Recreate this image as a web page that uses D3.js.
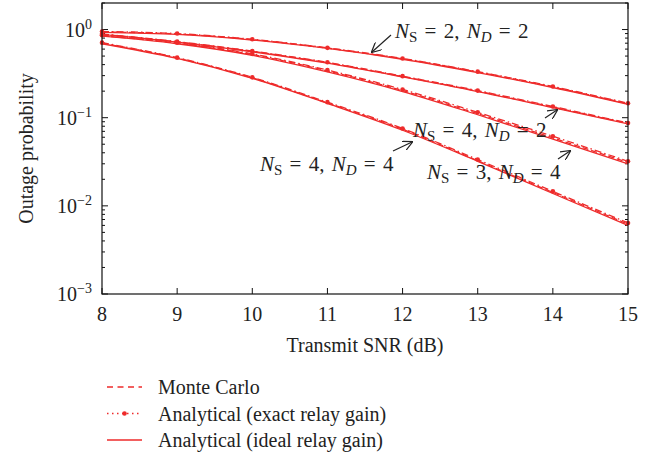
<!DOCTYPE html>
<html>
<head>
<meta charset="utf-8">
<script src="https://cdn.jsdelivr.net/npm/d3@7"></script>
<style>
  body { margin: 0; background: #fff; }
  svg { display: block; }
  text { font-family: "Liberation Serif", "DejaVu Serif", serif; fill: #222; }
</style>
</head>
<body>
<svg id="chart" width="659" height="459"></svg>
<script>
// transmit SNR (dB)
const snr = [8, 9, 10, 11, 12, 13, 14, 15];

// Monte Carlo
const mcA = [0.94, 0.89, 0.77, 0.615, 0.465, 0.33, 0.223, 0.144];
const mcB = [0.885, 0.725, 0.565, 0.42, 0.293, 0.2, 0.132, 0.086];
const mcC = [0.85, 0.70, 0.52, 0.34, 0.203, 0.111, 0.059, 0.031];
const mcD = [0.70, 0.475, 0.283, 0.147, 0.074, 0.0325, 0.0142, 0.0062];

// analytical, exact relay gain
const exA = [0.95, 0.90, 0.775, 0.62, 0.47, 0.333, 0.226, 0.146];
const exB = [0.89, 0.73, 0.57, 0.425, 0.296, 0.203, 0.134, 0.087];
const exC = [0.86, 0.71, 0.53, 0.347, 0.209, 0.115, 0.0615, 0.032];
const exD = [0.71, 0.48, 0.287, 0.15, 0.0755, 0.0335, 0.0146, 0.0064];

// analytical, ideal relay gain
const idA = [0.93, 0.88, 0.76, 0.61, 0.46, 0.325, 0.22, 0.142];
const idB = [0.88, 0.72, 0.56, 0.415, 0.29, 0.198, 0.13, 0.085];
const idC = [0.84, 0.69, 0.51, 0.33, 0.198, 0.108, 0.057, 0.030];
const idD = [0.69, 0.47, 0.28, 0.145, 0.072, 0.032, 0.0138, 0.0060];

const xTicks = [8, 9, 10, 11, 12, 13, 14, 15];
const yDecades = [0, -1, -2, -3];

const legendLabels = ["Monte Carlo", "Analytical (exact relay gain)", "Analytical (ideal relay gain)"];

const notes = [
  { s: "2", d: "2", tx: 395, ty: 38, a: [391, 35, 372, 52] },
  { s: "4", d: "2", tx: 413, ty: 137, a: [545, 118, 557, 110] },
  { s: "3", d: "4", tx: 427, ty: 179, a: [558, 159, 570, 151] },
  { s: "4", d: "4", tx: 260, ty: 171, a: [393, 151, 412, 142] }
];

const red = "#ee2b2b";
const margin = { top: 3, left: 102, right: 31, bottom: 165 };
const width = 659 - margin.left - margin.right;
const height = 459 - margin.top - margin.bottom;

const svg = d3.select("#chart");

svg.append("defs").append("marker")
  .attr("id", "head")
  .attr("viewBox", "0 0 10 10")
  .attr("refX", 9).attr("refY", 5)
  .attr("markerWidth", 10).attr("markerHeight", 10)
  .attr("markerUnits", "userSpaceOnUse")
  .attr("orient", "auto")
  .append("path")
  .attr("d", "M0,0 L10,5 L0,10")
  .attr("fill", "none")
  .attr("stroke", "#222")
  .attr("stroke-width", 1.2);

const g = svg.append("g").attr("transform", `translate(${margin.left},${margin.top})`);

const x = d3.scaleLinear().domain([8, 15]).range([0, width]);
const y = d3.scaleLog().domain([1e-3, 2]).range([height, 0]);

// ticks (inside, all four sides)
const majorY = yDecades.map(e => Math.pow(10, e));
const minorY = [];
[-3, -2, -1, 0].forEach(e => {
  for (let k = 2; k <= 9; k++) {
    const v = k * Math.pow(10, e);
    if (v <= 2) minorY.push(v);
  }
});

const axisG = g.append("g").attr("stroke", "#111").attr("stroke-width", 1);
xTicks.forEach(t => {
  axisG.append("line").attr("x1", x(t)).attr("x2", x(t)).attr("y1", height).attr("y2", height - 6);
  axisG.append("line").attr("x1", x(t)).attr("x2", x(t)).attr("y1", 0).attr("y2", 6);
});
majorY.forEach(v => {
  axisG.append("line").attr("x1", 0).attr("x2", 6).attr("y1", y(v)).attr("y2", y(v));
  axisG.append("line").attr("x1", width).attr("x2", width - 6).attr("y1", y(v)).attr("y2", y(v));
});
minorY.forEach(v => {
  axisG.append("line").attr("x1", 0).attr("x2", 3).attr("y1", y(v)).attr("y2", y(v));
  axisG.append("line").attr("x1", width).attr("x2", width - 3).attr("y1", y(v)).attr("y2", y(v));
});

// curves
const line = d3.line()
  .x(d => x(d[0]))
  .y(d => y(d[1]))
  .curve(d3.curveMonotoneX);

const styles = {
  mc: { dash: "6,3" },
  ex: { dash: "7,3,1.5,3" },
  id: { dash: null }
};

const series = [
  { vals: mcA, kind: "mc" }, { vals: mcB, kind: "mc" }, { vals: mcC, kind: "mc" }, { vals: mcD, kind: "mc" },
  { vals: exA, kind: "ex" }, { vals: exB, kind: "ex" }, { vals: exC, kind: "ex" }, { vals: exD, kind: "ex" },
  { vals: idA, kind: "id" }, { vals: idB, kind: "id" }, { vals: idC, kind: "id" }, { vals: idD, kind: "id" }
];

const curves = g.append("g");
series.forEach(s => {
  const pts = snr.map((v, i) => [v, s.vals[i]]);
  curves.append("path")
    .datum(pts)
    .attr("d", line)
    .attr("fill", "none")
    .attr("stroke", red)
    .attr("stroke-width", 1.3)
    .attr("stroke-dasharray", styles[s.kind].dash);
  if (s.kind === "ex") {
    curves.selectAll(null)
      .data(pts)
      .join("circle")
      .attr("cx", d => x(d[0]))
      .attr("cy", d => y(d[1]))
      .attr("r", 2.3)
      .attr("fill", red);
  }
});

// frame
g.append("rect")
  .attr("width", width).attr("height", height)
  .attr("fill", "none").attr("stroke", "#111").attr("stroke-width", 1.2);

// tick labels
g.selectAll(".xl")
  .data(xTicks)
  .join("text")
  .attr("x", d => x(d))
  .attr("y", height + 27)
  .attr("text-anchor", "middle")
  .attr("font-size", 20)
  .text(d => d);

yDecades.forEach(e => {
  const t = g.append("text")
    .attr("x", -10)
    .attr("y", y(Math.pow(10, e)) + 7)
    .attr("text-anchor", "end")
    .attr("font-size", 20);
  t.append("tspan").text("10");
  t.append("tspan")
    .attr("dy", -8)
    .attr("font-size", 14)
    .text(e === 0 ? "0" : "\u2212" + (-e));
});

// axis titles
svg.append("text")
  .attr("x", margin.left + width / 2)
  .attr("y", 352)
  .attr("text-anchor", "middle")
  .attr("font-size", 20)
  .text("Transmit SNR (dB)");

svg.append("text")
  .attr("transform", `translate(33,${margin.top + height / 2}) rotate(-90)`)
  .attr("text-anchor", "middle")
  .attr("font-size", 20)
  .text("Outage probability");

// annotations
notes.forEach(n => {
  const t = svg.append("text")
    .attr("x", n.tx).attr("y", n.ty)
    .attr("font-size", 21)
    .attr("word-spacing", 2)
    .attr("xml:space", "preserve");
  t.append("tspan").attr("font-style", "italic").text("N");
  t.append("tspan").attr("font-size", 15).attr("dy", 4).text("S");
  t.append("tspan").attr("dy", -4).text(` = ${n.s}, `);
  t.append("tspan").attr("font-style", "italic").text("N");
  t.append("tspan").attr("font-size", 15).attr("dy", 4).attr("font-style", "italic").text("D");
  t.append("tspan").attr("dy", -4).text(` = ${n.d}`);

  svg.append("line")
    .attr("x1", n.a[0]).attr("y1", n.a[1])
    .attr("x2", n.a[2]).attr("y2", n.a[3])
    .attr("stroke", "#222").attr("stroke-width", 1.2)
    .attr("marker-end", "url(#head)");
});

// legend
const legend = svg.append("g").attr("transform", "translate(107,387)");
const legendKinds = ["mc", "ex", "id"];
legendKinds.forEach((k, i) => {
  const row = legend.append("g").attr("transform", `translate(0,${i * 26.5})`);
  row.append("line")
    .attr("x1", 0).attr("x2", 35)
    .attr("stroke", red).attr("stroke-width", 1.3)
    .attr("stroke-dasharray", k === "mc" ? "6,4.5" : k === "ex" ? "1.5,3.5" : null);
  if (k === "ex") {
    row.append("circle").attr("cx", 17.5).attr("r", 2.3).attr("fill", red);
  }
  row.append("text")
    .attr("x", 51).attr("y", 7)
    .attr("font-size", 20)
    .text(legendLabels[i]);
});
</script>
</body>
</html>
